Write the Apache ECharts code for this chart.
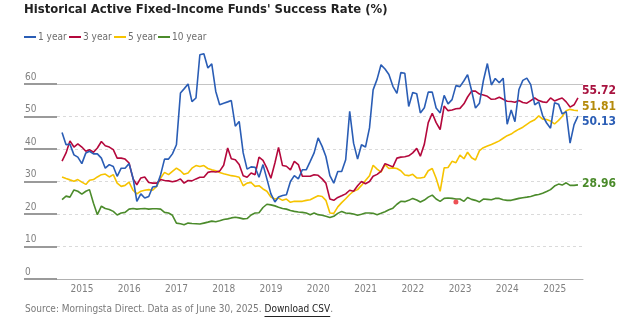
<!DOCTYPE html>
<html>
<head>
<meta charset="utf-8">
<script src="https://cdn.jsdelivr.net/npm/echarts@6/dist/echarts.min.js"></script>
<style>
  html, body { margin: 0; padding: 0; background: #fff; }
  #chart { width: 630px; height: 322px; }
</style>
</head>
<body>
<div id="chart"></div>
<script>
// Monthly observations, first month-end July 2014, last June 2025
const startYear = 2014;
const startMonth = 7;

const oneYear = [
  45.1, 41.3, 41.5, 38.2, 37.5, 35.5, 38.8, 39.3, 38.5, 38.5,
  37.2, 34.1, 35.2, 34.6, 31.6, 34.1, 34.1, 35.5, 31.0, 23.9,
  26.2, 24.9, 25.4, 28.3, 28.5, 32.1, 36.9, 36.9, 38.5, 41.3,
  57.2, 58.5, 60.0, 54.6, 55.7, 69.0, 69.3, 64.9, 66.2, 57.7,
  53.6, 54.1, 54.5, 54.9, 47.0, 48.5, 38.8, 33.8, 34.5, 34.4,
  31.3, 35.2, 30.8, 26.2, 23.7, 25.2, 25.7, 25.9, 30.0, 31.8,
  30.8, 33.6, 33.6, 36.2, 38.8, 43.4, 40.8, 37.7, 31.8, 29.5,
  33.1, 33.1, 36.7, 51.6, 41.8, 36.9, 41.3, 40.6, 46.5, 58.2,
  61.5, 65.9, 64.6, 62.9, 59.3, 57.1, 63.5, 63.3, 53.1, 57.4,
  57.0, 51.1, 52.7, 57.5, 57.5, 52.6, 51.1, 56.5, 53.9, 55.2,
  59.5, 59.2, 61.0, 62.9, 58.0, 52.6, 54.1, 61.0, 66.3, 59.7,
  61.7, 60.4, 61.8, 47.6, 52.0, 48.4, 58.3, 61.1, 61.8, 59.8,
  53.6, 54.5, 50.3, 48.0, 46.4, 54.2, 53.8, 50.8, 51.5, 41.8,
  47.5, 50.13
];

const threeYear = [
  36.3, 38.8, 42.5, 40.6, 41.6, 40.6, 39.3, 39.8, 39.0, 40.3,
  42.3, 41.0, 40.6, 39.8, 37.2, 37.2, 36.9, 35.7, 30.8, 29.0,
  31.1, 31.4, 29.7, 29.5, 29.5, 30.6, 30.3, 30.2, 29.9, 30.2,
  30.8, 29.5, 30.3, 30.2, 30.8, 31.3, 31.3, 32.8, 33.1, 32.9,
  33.2, 35.0, 40.3, 37.0, 36.7, 35.2, 31.8, 31.3, 32.6, 32.1,
  37.5, 36.5, 34.1, 31.0, 35.7, 40.5, 34.9, 34.7, 33.6, 36.2,
  35.2, 31.6, 31.6, 31.6, 32.1, 31.9, 30.8, 29.5, 24.6, 24.2,
  25.1, 25.6, 26.2, 27.3, 27.0, 28.7, 30.0, 29.3, 30.0, 31.6,
  32.2, 33.1, 35.5, 35.0, 34.5, 37.2, 37.5, 37.6, 37.9, 38.8,
  40.2, 37.8, 41.5, 48.1, 51.0, 48.1, 46.0, 53.2, 51.8, 52.0,
  52.4, 52.5, 53.9, 56.0, 57.8, 57.8, 56.9, 56.6, 56.2, 55.3,
  55.4, 55.9, 55.3, 54.7, 54.6, 54.4, 54.9, 54.3, 54.1, 54.9,
  55.7, 54.9, 54.5, 54.3, 55.7, 54.8, 55.3, 55.7, 54.5, 52.9,
  53.6, 55.72
];

const fiveYear = [
  31.4, 30.9, 30.5, 30.1, 30.6, 29.8, 29.1, 30.4, 30.6, 31.4,
  32.1, 32.3, 31.4, 32.1, 29.5, 28.5, 28.8, 29.8, 27.3, 26.2,
  27.0, 27.3, 27.5, 27.3, 28.5, 31.1, 32.8, 32.1, 33.1, 34.1,
  33.3, 32.2, 32.6, 34.1, 34.9, 34.6, 34.9, 34.0, 33.6, 33.3,
  32.8, 32.4, 32.1, 31.8, 31.6, 31.3, 28.7, 29.5, 29.7, 28.5,
  28.7, 27.7, 27.0, 25.2, 24.6, 24.9, 24.2, 24.6, 23.6, 23.9,
  23.9, 23.9, 24.2, 24.4, 25.0, 25.6, 25.4, 24.2, 20.3, 20.2,
  22.2, 23.5, 24.7, 26.0, 27.0, 27.5, 28.8, 30.3, 31.8, 35.0,
  33.8, 32.9, 35.2, 34.0, 34.2, 34.0, 33.3, 32.0, 31.8, 32.2,
  31.1, 31.1, 31.3, 33.3, 34.0, 31.0, 27.0, 34.2, 34.3, 36.2,
  35.8, 38.1, 37.0, 39.0, 37.3, 36.6, 39.5, 40.4, 40.9, 41.4,
  41.9, 42.5, 43.3, 44.1, 44.6, 45.4, 46.1, 46.7, 47.6, 48.4,
  49.0, 50.2, 49.2, 49.1, 48.6, 47.7, 48.8, 50.0, 51.8, 52.2,
  51.9, 51.81
];

const tenYear = [
  24.4, 25.5, 25.2, 27.4, 27.0, 26.1, 27.0, 27.5, 23.3, 19.8,
  22.4, 21.7, 21.4, 20.8, 19.7, 20.3, 20.5, 21.5, 21.7, 21.5,
  21.6, 21.7, 21.5, 21.6, 21.6, 21.5, 20.5, 20.3, 19.6, 17.2,
  17.0, 16.7, 17.2, 17.1, 17.0, 16.9, 17.2, 17.5, 17.8, 17.6,
  17.9, 18.3, 18.5, 18.8, 19.0, 18.8, 18.5, 18.6, 19.7, 20.3,
  20.4, 22.0, 23.0, 22.8, 22.5, 22.1, 21.7, 21.5, 21.1, 20.8,
  20.6, 20.5, 20.3, 19.8, 20.3, 19.8, 19.6, 19.3, 18.9, 19.3,
  20.2, 20.8, 20.3, 20.2, 20.0, 19.6, 19.9, 20.3, 20.3, 20.2,
  19.8, 20.2, 20.7, 21.3, 21.8, 23.0, 23.9, 23.8, 24.2, 24.8,
  24.3, 23.7, 24.3, 25.2, 25.8, 24.6, 23.9, 24.8, 24.9, 24.8,
  24.6, 24.6, 23.9, 25.1, 24.5, 24.2, 23.7, 24.6, 24.5, 24.4,
  24.8, 24.8, 24.4, 24.2, 24.2, 24.5, 24.8, 25.0, 25.2, 25.4,
  25.8, 26.0, 26.4, 26.9, 27.5, 28.6, 29.2, 28.9, 29.6, 28.8,
  28.8, 28.96
];

// Single highlighted observation (month index from start, value)
const highlightIndex = 100;
const highlightValue = 23.7;

const seriesNames = ['1 year', '3 year', '5 year', '10 year'];
const lineColors = ['#2a5db5', '#b4083c', '#f6c300', '#4b8b2b'];
const labelColors = ['#2a5db5', '#a8123f', '#b48a0a', '#4b8b2b'];
const labelShift = [6, -7.5, -3.5, -1];
const legendLefts = [24, 69, 114, 158];

const yMin = 0, yMax = 60, yStep = 10;

const FONT = "'Liberation Sans Narrow', 'DejaVu Sans Condensed', 'Roboto Condensed', sans-serif";
const DAY = 86400000;

const measureCtx = document.createElement('canvas').getContext('2d');
function textWidth(text, size, weight) {
  measureCtx.font = (weight || 'normal') + ' ' + size + 'px ' + FONT;
  return measureCtx.measureText(text).width;
}

function monthEnd(i) {
  return new Date(startYear, startMonth + i, 0).getTime();
}

function toPoints(values) {
  return values.map((v, i) => [monthEnd(i), v]);
}

const allSeries = [oneYear, threeYear, fiveYear, tenYear];
const lastIndex = oneYear.length - 1;

// headline sized so its opening words span the intended run
const titleText = "Historical Active Fixed-Income Funds' Success Rate (%)";
const titleLead = "Historical Active Fixed-Income Funds' Succes";
const titleSize = Math.min(16.5, 16 * 296 / textWidth(titleLead, 16, 'bold'));

const chart = echarts.init(document.getElementById('chart'), null, { renderer: 'canvas' });

const lineSeries = allSeries.map((vals, k) => ({
  name: seriesNames[k],
  type: 'line',
  data: toPoints(vals),
  showSymbol: false,
  symbol: 'none',
  clip: false,
  z: 3 + (allSeries.length - k),
  lineStyle: { color: lineColors[k], width: 1.6 },
  itemStyle: { color: lineColors[k] },
  emphasis: { disabled: true },
  endLabel: {
    show: true,
    formatter: p => p.value[1].toFixed(2),
    color: labelColors[k],
    fontFamily: FONT,
    fontSize: 12,
    fontWeight: 'bold',
    distance: 4,
    offset: [0, labelShift[k]]
  }
}));

// solid reference line across the top of the value range
lineSeries[0].markLine = {
  silent: true,
  symbol: ['none', 'none'],
  label: { show: false },
  lineStyle: { color: '#c4c4c4', type: 'solid', width: 1 },
  data: [{ yAxis: yMax }]
};

const dotSeries = {
  name: 'highlight',
  type: 'scatter',
  data: [[monthEnd(highlightIndex), highlightValue]],
  symbolSize: 5,
  itemStyle: { color: '#e8262a' },
  z: 10,
  silent: true
};

// source line with an underlined link
const srcLead = 'Source: Morningsta Direct. Data as of June 30, 2025. ';
const srcLink = 'Download CSV';
const srcTail = '.';
const leadW = textWidth(srcLead, 10);
const linkW = textWidth(srcLink, 10);
const srcLeft = 25, srcTop = 304;

chart.setOption({
  animation: false,
  backgroundColor: '#ffffff',
  textStyle: { fontFamily: FONT },
  title: {
    text: titleText,
    left: 24,
    top: 3,
    padding: 0,
    textStyle: { fontFamily: FONT, fontSize: titleSize, fontWeight: 'bold', color: '#222222' }
  },
  legend: seriesNames.map((name, k) => ({
    data: [name],
    left: legendLefts[k],
    top: 32,
    padding: 0,
    icon: 'rect',
    itemWidth: 12,
    itemHeight: 2,
    selectedMode: false,
    textStyle: { fontFamily: FONT, fontSize: 10, color: '#6e6e6e', padding: [0, 0, 0, -3] }
  })),
  grid: {
    left: 57,
    right: 47,
    top: 84,
    bottom: 43,
    containLabel: false,
    outerBoundsMode: 'none'
  },
  xAxis: {
    type: 'time',
    min: monthEnd(0) - 39 * DAY,
    max: monthEnd(lastIndex) + 39 * DAY,
    minInterval: 365 * DAY,
    maxInterval: 366 * DAY,
    axisLine: { show: true, lineStyle: { color: '#b0b0b0', width: 1 } },
    axisTick: { show: false },
    splitLine: { show: false },
    axisLabel: {
      fontFamily: FONT,
      fontSize: 10,
      color: '#808080',
      margin: 5,
      showMinLabel: false,
      showMaxLabel: false,
      formatter: function (val) {
        const d = new Date(val);
        return (d.getMonth() === 0 && d.getDate() === 1) ? String(d.getFullYear()) : '';
      }
    }
  },
  yAxis: {
    type: 'value',
    min: yMin,
    max: yMax,
    interval: yStep,
    axisLine: { show: false },
    axisTick: { show: true, length: 33, lineStyle: { color: '#7a7a7a', width: 1.5 } },
    splitLine: { show: true, lineStyle: { color: '#dadada', type: [3, 3], width: 1 } },
    axisLabel: {
      fontFamily: FONT,
      fontSize: 10,
      color: '#808080',
      align: 'left',
      verticalAlign: 'bottom',
      margin: 32,
      lineHeight: 12,
      padding: [0, 0, 1, 0]
    }
  },
  series: lineSeries.concat([dotSeries]),
  graphic: [
    {
      type: 'text',
      left: srcLeft,
      top: srcTop,
      silent: true,
      style: {
        text: '{a|' + srcLead + '}{b|' + srcLink + '}{a|' + srcTail + '}',
        rich: {
          a: { fontFamily: FONT, fontSize: 10, fill: '#7a7a7a', color: '#7a7a7a' },
          b: { fontFamily: FONT, fontSize: 10, fill: '#222222', color: '#222222' }
        }
      }
    },
    {
      type: 'line',
      silent: true,
      shape: {
        x1: srcLeft + leadW, y1: srcTop + 12.5,
        x2: srcLeft + leadW + linkW, y2: srcTop + 12.5
      },
      style: { stroke: '#222222', lineWidth: 1 }
    }
  ]
});
</script>
</body>
</html>
